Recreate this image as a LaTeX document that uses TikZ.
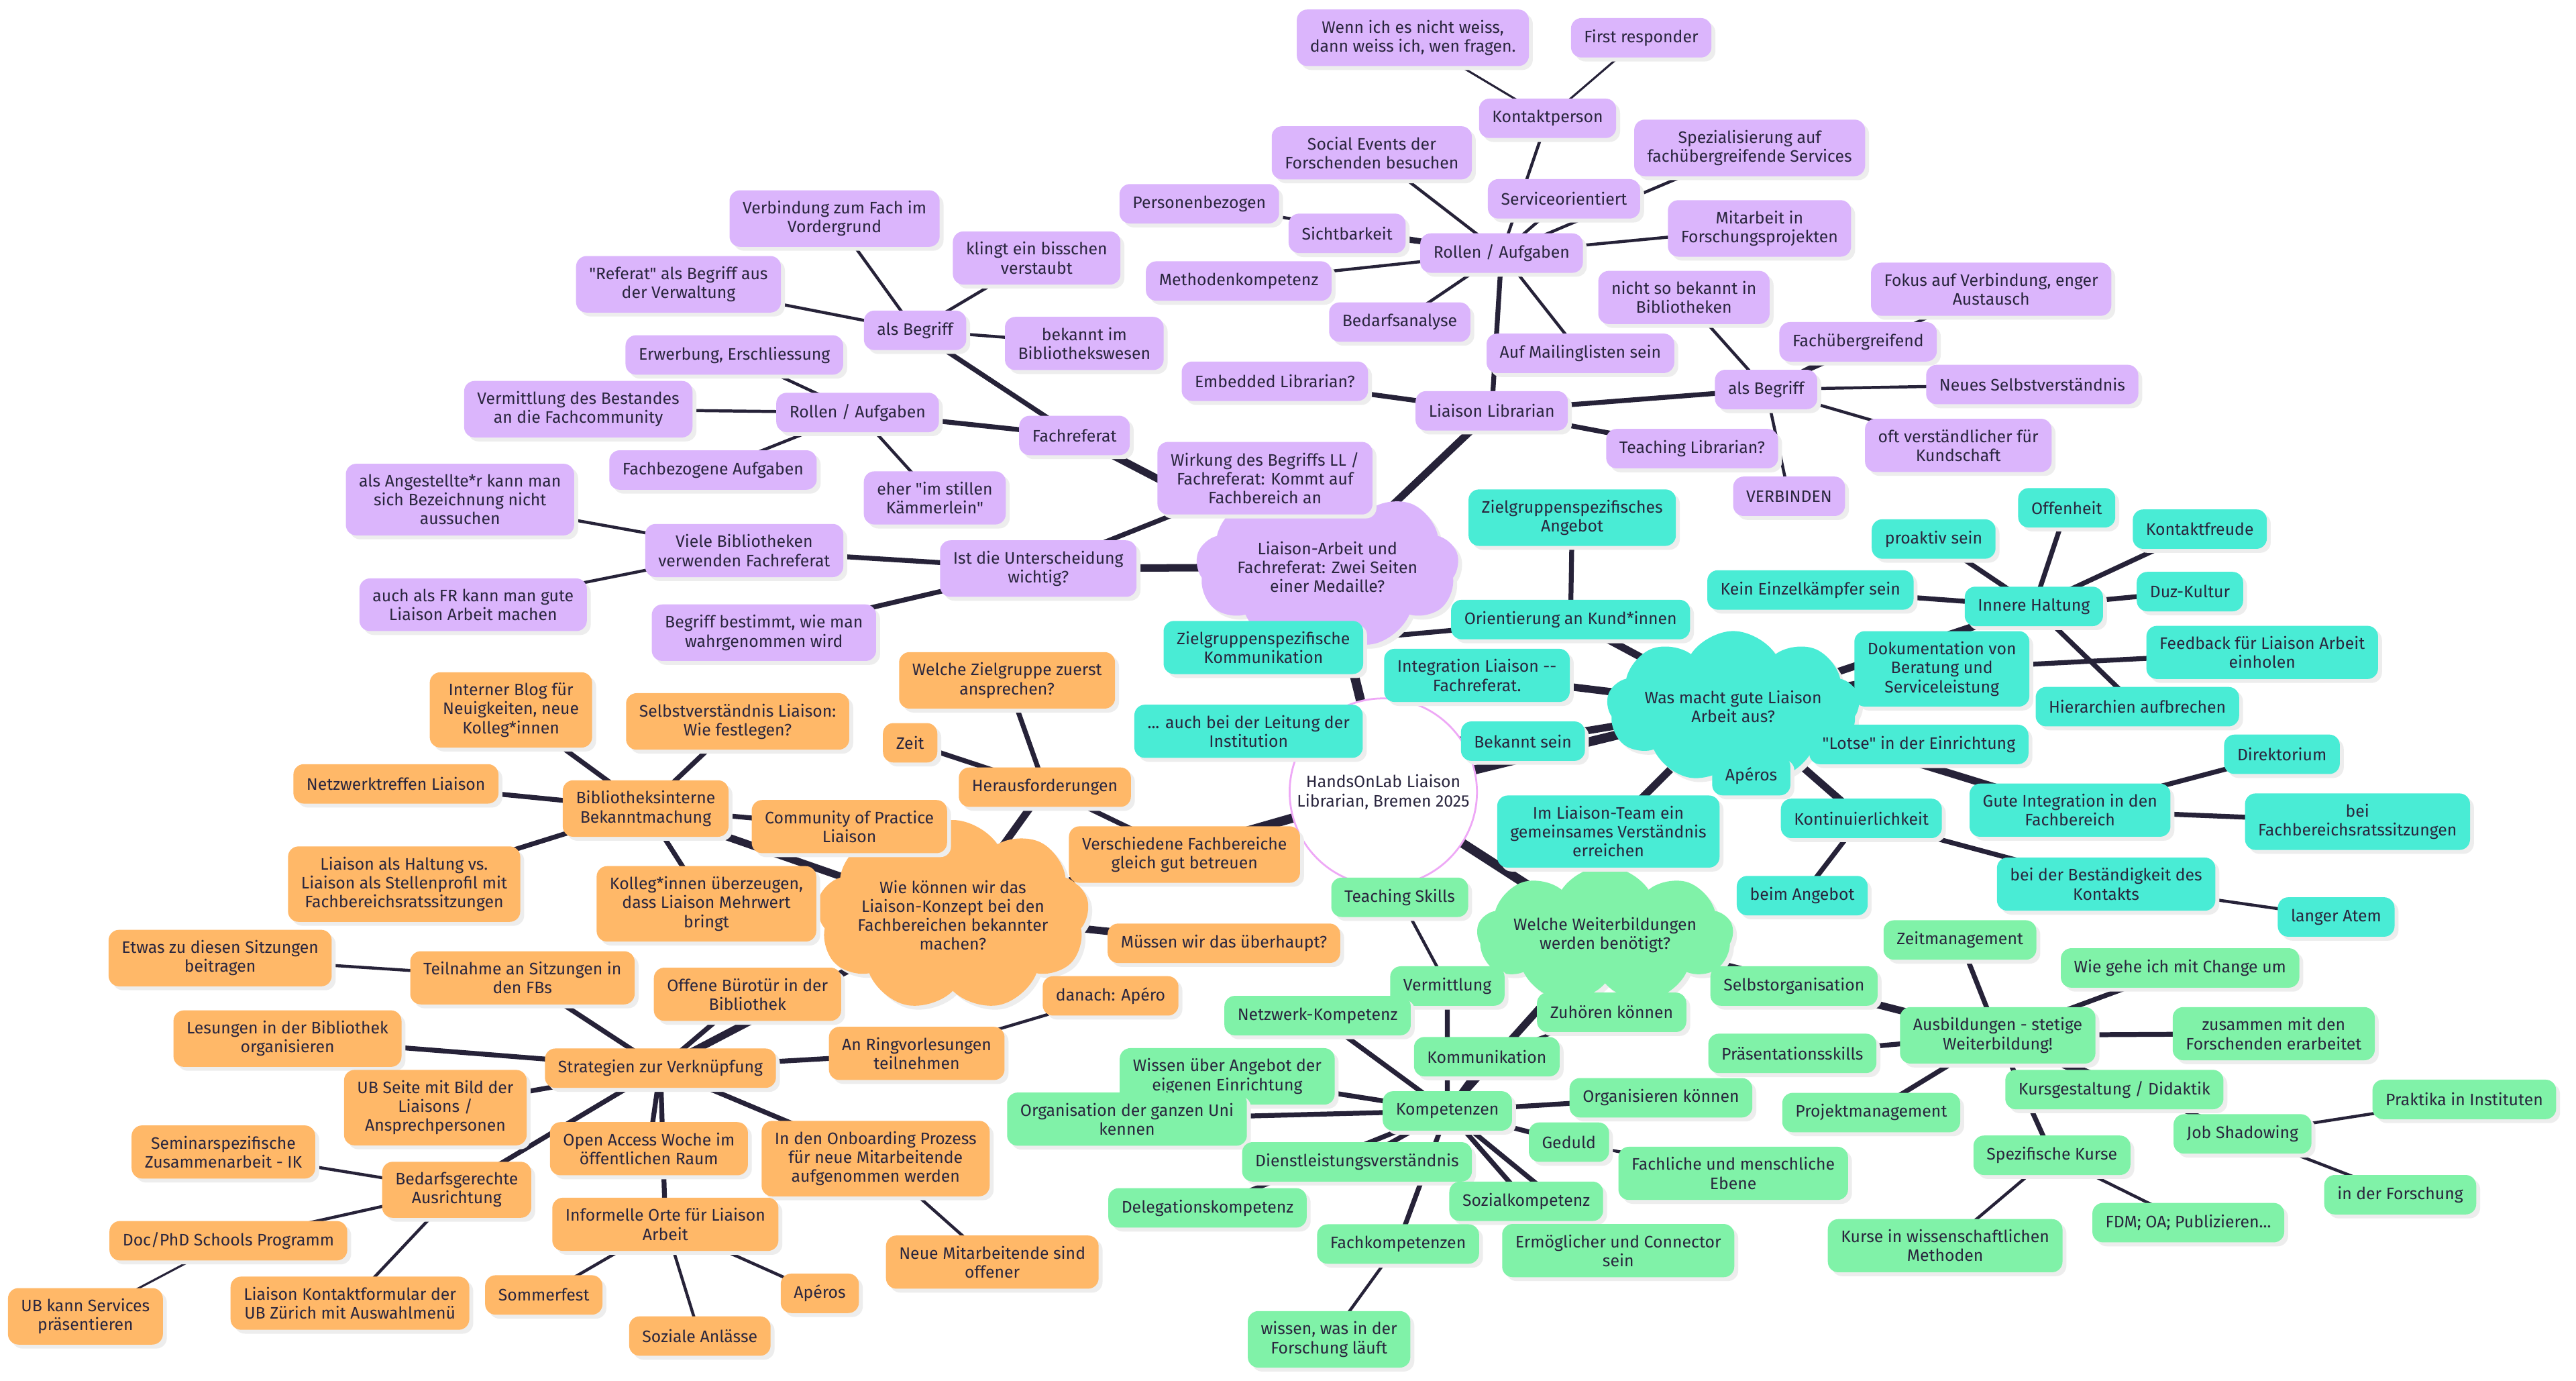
\documentclass[tikz,border=0pt]{standalone}
\usepackage{fontspec}
\setmainfont{Fira Sans}[Ligatures=TeXOff]
\usetikzlibrary{shapes.symbols,shadows,backgrounds}
\definecolor{lila}{RGB}{219,181,252}
\definecolor{orang}{RGB}{255,184,104}
\definecolor{tuerkis}{RGB}{73,236,213}
\definecolor{gruen}{RGB}{128,242,168}
\definecolor{rosa}{RGB}{238,168,246}
\definecolor{tinte}{RGB}{42,38,62}
\definecolor{kante}{RGB}{38,34,56}
\tikzset{
  schrift/.style={font=\fontsize{7.2pt}{8.2pt}\selectfont, text=tinte, align=center},
  schatten/.style={drop shadow={shadow xshift=1.7pt, shadow yshift=-1.7pt, fill=black!7, opacity=1}},
  kasten/.style={schrift, schatten, rounded corners=0.16cm, inner xsep=0.2cm, inner ysep=0.16cm, minimum height=0.6cm},
  pur/.style={kasten, fill=lila},
  ora/.style={kasten, fill=orang},
  tea/.style={kasten, fill=tuerkis},
  gre/.style={kasten, fill=gruen},
  wolke/.style={schrift, schatten, cloud, cloud puffs=9, cloud puff arc=115, cloud ignores aspect, inner sep=0pt},
  l0/.style={draw=kante, line width=4pt},
  l1/.style={draw=kante, line width=3.2pt},
  l2/.style={draw=kante, line width=2.1pt},
  l3/.style={draw=kante, line width=1.3pt},
  l4/.style={draw=kante, line width=0.9pt}
}

\begin{document}
\begin{tikzpicture}[x=0.025cm, y=-0.025cm]
    \useasboundingbox (0,0) rectangle (1568,840);
    % Wolken und Mitte
    \node[wolke, fill=lila, minimum width=4cm, minimum height=2.5cm] (wl) at (808,345) {Liaison-Arbeit und\\Fachreferat: Zwei Seiten\\einer Medaille?};
    \node[wolke, fill=tuerkis, minimum width=3.85cm, minimum height=2.3cm] (wt) at (1055,430) {Was macht gute Liaison\\Arbeit aus?};
    \node[wolke, fill=gruen, minimum width=3.9cm, minimum height=2.1cm] (wg) at (977,569) {Welche Weiterbildungen\\werden benötigt?};
    \node[wolke, fill=orang, minimum width=4.15cm, minimum height=2.9cm] (wo) at (580,557) {Wie können wir das\\Liaison-Konzept bei den\\Fachbereichen bekannter\\machen?};
    \node[schrift, circle, draw=rosa, line width=0.8pt, fill=white, minimum size=2.85cm, inner sep=0pt] (mitte) at (842,482) {HandsOnLab Liaison\\Librarian, Bremen 2025};

    % lila
    \node[pur] (wirk) at (770,291) {Wirkung des Begriffs LL /\\Fachreferat: Kommt auf\\Fachbereich an};
    \node[pur] (fr) at (654,265) {Fachreferat};
    \node[pur] (ll) at (908,250) {Liaison Librarian};
    \node[pur] (unt) at (632,346) {Ist die Unterscheidung\\wichtig?};
    \node[pur] (fbeg) at (557,201) {als Begriff};
    \node[pur] (frol) at (522,251) {Rollen / Aufgaben};
    \node[pur] (verb) at (508,133) {Verbindung zum Fach im\\Vordergrund};
    \node[pur] (refer) at (413,173) {"Referat" als Begriff aus\\der Verwaltung};
    \node[pur] (klingt) at (631,157) {klingt ein bisschen\\verstaubt};
    \node[pur] (bek) at (660,209) {bekannt im\\Bibliothekswesen};
    \node[pur] (erw) at (447,216) {Erwerbung, Erschliessung};
    \node[pur] (verm) at (352,249) {Vermittlung des Bestandes\\an die Fachcommunity};
    \node[pur] (fachauf) at (434,286) {Fachbezogene Aufgaben};
    \node[pur] (kaem) at (569,303) {eher "im stillen\\Kämmerlein"};
    \node[pur] (angest) at (280,304) {als Angestellte*r kann man\\sich Bezeichnung nicht\\aussuchen};
    \node[pur] (viele) at (453,335) {Viele Bibliotheken\\verwenden Fachreferat};
    \node[pur] (auchfr) at (288,368) {auch als FR kann man gute\\Liaison Arbeit machen};
    \node[pur] (begr) at (465,385) {Begriff bestimmt, wie man\\wahrgenommen wird};
    \node[pur] (emb) at (776,232) {Embedded Librarian?};
    \node[pur] (lrol) at (914,154) {Rollen / Aufgaben};
    \node[pur] (teach) at (1030,273) {Teaching Librarian?};
    \node[pur] (lbeg) at (1075,237) {als Begriff};
    \node[pur] (mail) at (962,215) {Auf Mailinglisten sein};
    \node[pur] (bedarf) at (852,196) {Bedarfsanalyse};
    \node[pur] (meth) at (754,171) {Methodenkompetenz};
    \node[pur] (sicht) at (820,142) {Sichtbarkeit};
    \node[pur] (pers) at (730,124) {Personenbezogen};
    \node[pur] (social) at (835,93) {Social Events der\\Forschenden besuchen};
    \node[pur] (serv) at (952,121) {Serviceorientiert};
    \node[pur] (kontakt) at (942,72) {Kontaktperson};
    \node[pur] (wenn) at (860,23) {Wenn ich es nicht weiss,\\dann weiss ich, wen fragen.};
    \node[pur] (first) at (999,23) {First responder};
    \node[pur] (spez) at (1065,90) {Spezialisierung auf\\fachübergreifende Services};
    \node[pur] (mitarb) at (1071,139) {Mitarbeit in\\Forschungsprojekten};
    \node[pur] (nicht) at (1025,181) {nicht so bekannt in\\Bibliotheken};
    \node[pur] (fokus) at (1212,176) {Fokus auf Verbindung, enger\\Austausch};
    \node[pur] (fue) at (1131,208) {Fachübergreifend};
    \node[pur] (neues) at (1237,234) {Neues Selbstverständnis};
    \node[pur] (oft) at (1192,271) {oft verständlicher für\\Kundschaft};
    \node[pur] (verbi) at (1089,302) {VERBINDEN};

    % tuerkis
    \node[tea] (zga) at (957,315) {Zielgruppenspezifisches\\Angebot};
    \node[tea] (ork) at (956,377) {Orientierung an Kund*innen};
    \node[tea] (zgk) at (769,394) {Zielgruppenspezifische\\Kommunikation};
    \node[tea] (integ) at (899,411) {Integration Liaison --\\Fachreferat.};
    \node[tea] (leit) at (760,445) {... auch bei der Leitung der\\Institution};
    \node[tea] (bekannt) at (927,451) {Bekannt sein};
    \node[tea] (team) at (979,506) {Im Liaison-Team ein\\gemeinsames Verständnis\\erreichen};
    \node[tea] (apert) at (1066,472) {Apéros};
    \node[tea] (kont) at (1133,498) {Kontinuierlichkeit};
    \node[tea] (angeb) at (1097,545) {beim Angebot};
    \node[tea] (best) at (1282,538) {bei der Beständigkeit des\\Kontakts};
    \node[tea] (atem) at (1422,558) {langer Atem};
    \node[tea] (gutint) at (1260,493) {Gute Integration in den\\Fachbereich};
    \node[tea] (dir) at (1389,459) {Direktorium};
    \node[tea] (fbrs) at (1435,500) {bei\\Fachbereichsratssitzungen};
    \node[tea] (lotse) at (1168,453) {"Lotse" in der Einrichtung};
    \node[tea] (doku) at (1182,407) {Dokumentation von\\Beratung und\\Serviceleistung};
    \node[tea] (feed) at (1377,397) {Feedback für Liaison Arbeit\\einholen};
    \node[tea] (haltung) at (1238,369) {Innere Haltung};
    \node[tea] (einzel) at (1102,359) {Kein Einzelkämpfer sein};
    \node[tea] (proakt) at (1177,328) {proaktiv sein};
    \node[tea] (offen) at (1258,309) {Offenheit};
    \node[tea] (kfreude) at (1339,322) {Kontaktfreude};
    \node[tea] (duz) at (1333,360) {Duz-Kultur};
    \node[tea] (hier) at (1301,430) {Hierarchien aufbrechen};

    % gruen
    \node[gre] (teachsk) at (852,546) {Teaching Skills};
    \node[gre] (vermg) at (881,600) {Vermittlung};
    \node[gre] (zuh) at (981,616) {Zuhören können};
    \node[gre] (selbst) at (1092,600) {Selbstorganisation};
    \node[gre] (komm) at (905,643) {Kommunikation};
    \node[gre] (netz) at (802,618) {Netzwerk-Kompetenz};
    \node[gre] (wissen) at (747,655) {Wissen über Angebot der\\eigenen Einrichtung};
    \node[gre] (orguni) at (686,681) {Organisation der ganzen Uni\\kennen};
    \node[gre] (kompt) at (881,676) {Kompetenzen};
    \node[gre] (orgk) at (1011,668) {Organisieren können};
    \node[gre] (geduld) at (955,695) {Geduld};
    \node[gre] (fachm) at (1055,714) {Fachliche und menschliche\\Ebene};
    \node[gre] (dienst) at (826,707) {Dienstleistungsverständnis};
    \node[gre] (deleg) at (735,735) {Delegationskompetenz};
    \node[gre] (sozial) at (929,731) {Sozialkompetenz};
    \node[gre] (ermoeg) at (985,761) {Ermöglicher und Connector\\sein};
    \node[gre] (fachk) at (851,757) {Fachkompetenzen};
    \node[gre] (forsch) at (809,815) {wissen, was in der\\Forschung läuft};
    \node[gre] (ausb) at (1216,630) {Ausbildungen - stetige\\Weiterbildung!};
    \node[gre] (zeitm) at (1193,572) {Zeitmanagement};
    \node[gre] (praes) at (1091,641) {Präsentationsskills};
    \node[gre] (projm) at (1139,677) {Projektmanagement};
    \node[gre] (change) at (1327,589) {Wie gehe ich mit Change um};
    \node[gre] (zus) at (1384,629) {zusammen mit den\\Forschenden erarbeitet};
    \node[gre] (kurs) at (1287,663) {Kursgestaltung / Didaktik};
    \node[gre] (spezk) at (1249,703) {Spezifische Kurse};
    \node[gre] (kursew) at (1184,758) {Kurse in wissenschaftlichen\\Methoden};
    \node[gre] (fdm) at (1332,744) {FDM; OA; Publizieren...};
    \node[gre] (job) at (1365,690) {Job Shadowing};
    \node[gre] (prakt) at (1500,669) {Praktika in Instituten};
    \node[gre] (inforsch) at (1461,727) {in der Forschung};

    % orange
    \node[ora] (heraus) at (636,479) {Herausforderungen};
    \node[ora] (zielg) at (613,414) {Welche Zielgruppe zuerst\\ansprechen?};
    \node[ora] (zeit) at (554,452) {Zeit};
    \node[ora] (versch) at (721,520) {Verschiedene Fachbereiche\\gleich gut betreuen};
    \node[ora] (muessen) at (745,574) {Müssen wir das überhaupt?};
    \node[ora] (bibint) at (393,492) {Bibliotheksinterne\\Bekanntmachung};
    \node[ora] (cop) at (517,503) {Community of Practice\\Liaison};
    \node[ora] (blog) at (311,432) {Interner Blog für\\Neuigkeiten, neue\\Kolleg*innen};
    \node[ora] (selbstv) at (449,439) {Selbstverständnis Liaison:\\Wie festlegen?};
    \node[ora] (netzt) at (241,477) {Netzwerktreffen Liaison};
    \node[ora] (lhalt) at (246,538) {Liaison als Haltung vs.\\Liaison als Stellenprofil mit\\Fachbereichsratssitzungen};
    \node[ora] (koll) at (430,550) {Kolleg*innen überzeugen,\\dass Liaison Mehrwert\\bringt};
    \node[ora] (strat) at (402,650) {Strategien zur Verknüpfung};
    \node[ora] (teiln) at (318,595) {Teilnahme an Sitzungen in\\den FBs};
    \node[ora] (etwas) at (134,583) {Etwas zu diesen Sitzungen\\beitragen};
    \node[ora] (lesung) at (175,632) {Lesungen in der Bibliothek\\organisieren};
    \node[ora] (buero) at (455,605) {Offene Bürotür in der\\Bibliothek};
    \node[ora] (ring) at (558,641) {An Ringvorlesungen\\teilnehmen};
    \node[ora] (danach) at (676,606) {danach: Apéro};
    \node[ora] (ubseite) at (265,674) {UB Seite mit Bild der\\Liaisons /\\Ansprechpersonen};
    \node[ora] (oaw) at (395,699) {Open Access Woche im\\öffentlichen Raum};
    \node[ora] (onb) at (533,705) {In den Onboarding Prozess\\für neue Mitarbeitende\\aufgenommen werden};
    \node[ora] (neuemit) at (604,768) {Neue Mitarbeitende sind\\offener};
    \node[ora] (bedg) at (278,724) {Bedarfsgerechte\\Ausrichtung};
    \node[ora] (semin) at (136,701) {Seminarspezifische\\Zusammenarbeit - IK};
    \node[ora] (docphd) at (139,755) {Doc/PhD Schools Programm};
    \node[ora] (ubkann) at (52,801) {UB kann Services\\präsentieren};
    \node[ora] (kform) at (213,793) {Liaison Kontaktformular der\\UB Zürich mit Auswahlmenü};
    \node[ora] (inform) at (405,745) {Informelle Orte für Liaison\\Arbeit};
    \node[ora] (sommer) at (331,788) {Sommerfest};
    \node[ora] (sozan) at (426,813) {Soziale Anlässe};
    \node[ora] (apero) at (499,787) {Apéros};

    \begin{scope}[on background layer]
    \fill[white] (0,0) rectangle (1568,840);
    \draw[l0] (mitte.center) -- (wl.center) (mitte.center) -- (wt.center)
              (mitte.center) -- (wg.center) (mitte.center) -- (wo.center);
    % lila Zweig
    \draw[l1] (wl.center) -- (fr.center) (wl.center) -- (ll.center) (wl.center) -- (unt.center);
    \draw[l2] (unt.center) -- (wirk.center) (unt.center) -- (viele.center) (unt.center) -- (begr.center);
    \draw[l2] (fr.center) -- (fbeg.center) (fr.center) -- (frol.center);
    \draw[l3] (fbeg.center) -- (verb.center) (fbeg.center) -- (refer.center)
              (fbeg.center) -- (klingt.center) (fbeg.center) -- (bek.center);
    \draw[l3] (frol.center) -- (erw.center) (frol.center) -- (verm.center)
              (frol.center) -- (fachauf.center) (frol.center) -- (kaem.center);
    \draw[l3] (viele.center) -- (angest.center) (viele.center) -- (auchfr.center);
    \draw[l2] (ll.center) -- (emb.center) (ll.center) -- (lrol.center)
              (ll.center) -- (teach.center) (ll.center) -- (lbeg.center);
    \draw[l3] (lrol.center) -- (mail.center) (lrol.center) -- (bedarf.center)
              (lrol.center) -- (meth.center) (lrol.center) -- (sicht.center)
              (lrol.center) -- (pers.center) (lrol.center) -- (social.center)
              (lrol.center) -- (serv.center) (lrol.center) -- (kontakt.center)
              (lrol.center) -- (spez.center) (lrol.center) -- (mitarb.center);
    \draw[l4] (kontakt.center) -- (wenn.center) (kontakt.center) -- (first.center);
    \draw[l3] (lbeg.center) -- (nicht.center) (lbeg.center) -- (fokus.center)
              (lbeg.center) -- (fue.center) (lbeg.center) -- (neues.center)
              (lbeg.center) -- (oft.center) (lbeg.center) -- (verbi.center);
    % tuerkis Zweig
    \draw[l1] (wt.center) -- (ork.center) (wt.center) -- (integ.center)
              (wt.center) -- (bekannt.center) (wt.center) -- (team.center)
              (wt.center) -- (kont.center) (wt.center) -- (gutint.center)
              (wt.center) -- (doku.center) (wt.center) -- (haltung.center)
              (wt.center) -- (lotse.center) (wt.center) -- (apert.center);
    \draw[l2] (ork.center) -- (zga.center) (ork.center) -- (zgk.center);
    \draw[l2] (bekannt.center) -- (leit.center);
    \draw[l2] (kont.center) -- (angeb.center) (kont.center) -- (best.center);
    \draw[l3] (best.center) -- (atem.center);
    \draw[l2] (gutint.center) -- (dir.center) (gutint.center) -- (fbrs.center);
    \draw[l2] (doku.center) -- (feed.center);
    \draw[l2] (haltung.center) -- (einzel.center) (haltung.center) -- (proakt.center)
              (haltung.center) -- (offen.center) (haltung.center) -- (kfreude.center)
              (haltung.center) -- (duz.center) (haltung.center) -- (hier.center);
    % gruener Zweig
    \draw[l1] (wg.center) -- (kompt.center) (wg.center) -- (selbst.center) (wg.center) -- (ausb.center);
    \draw[l2] (kompt.center) -- (vermg.center) (kompt.center) -- (komm.center)
              (kompt.center) -- (netz.center) (kompt.center) -- (wissen.center)
              (kompt.center) -- (orguni.center) (kompt.center) -- (orgk.center)
              (kompt.center) -- (geduld.center) (kompt.center) -- (dienst.center)
              (kompt.center) -- (deleg.center) (kompt.center) -- (sozial.center)
              (kompt.center) -- (ermoeg.center) (kompt.center) -- (fachk.center);
    \draw[l3] (vermg.center) -- (teachsk.center) (komm.center) -- (zuh.center)
              (geduld.center) -- (fachm.center) (fachk.center) -- (forsch.center);
    \draw[l2] (ausb.center) -- (zeitm.center) (ausb.center) -- (praes.center)
              (ausb.center) -- (projm.center) (ausb.center) -- (change.center)
              (ausb.center) -- (zus.center) (ausb.center) -- (kurs.center)
              (ausb.center) -- (spezk.center) (ausb.center) -- (job.center);
    \draw[l3] (spezk.center) -- (kursew.center) (spezk.center) -- (fdm.center);
    \draw[l3] (job.center) -- (prakt.center) (job.center) -- (inforsch.center);
    % oranger Zweig
    \draw[l1] (wo.center) -- (heraus.center) (wo.center) -- (bibint.center)
              (wo.center) -- (strat.center) (wo.center) -- (muessen.center);
    \draw[l2] (heraus.center) -- (zielg.center) (heraus.center) -- (zeit.center)
              (heraus.center) -- (versch.center);
    \draw[l2] (bibint.center) -- (cop.center) (bibint.center) -- (blog.center)
              (bibint.center) -- (selbstv.center) (bibint.center) -- (netzt.center)
              (bibint.center) -- (lhalt.center) (bibint.center) -- (koll.center);
    \draw[l2] (strat.center) -- (teiln.center) (strat.center) -- (lesung.center)
              (strat.center) -- (ubseite.center) (strat.center) -- (bedg.center)
              (strat.center) -- (oaw.center) (strat.center) -- (inform.center)
              (strat.center) -- (buero.center) (strat.center) -- (ring.center)
              (strat.center) -- (onb.center);
    \draw[l3] (teiln.center) -- (etwas.center);
    \draw[l3] (bedg.center) -- (semin.center) (bedg.center) -- (docphd.center) (bedg.center) -- (kform.center);
    \draw[l4] (docphd.center) -- (ubkann.center);
    \draw[l3] (inform.center) -- (sommer.center) (inform.center) -- (sozan.center) (inform.center) -- (apero.center);
    \draw[l3] (ring.center) -- (danach.center) (onb.center) -- (neuemit.center);
    \end{scope}
\end{tikzpicture}
\end{document}
